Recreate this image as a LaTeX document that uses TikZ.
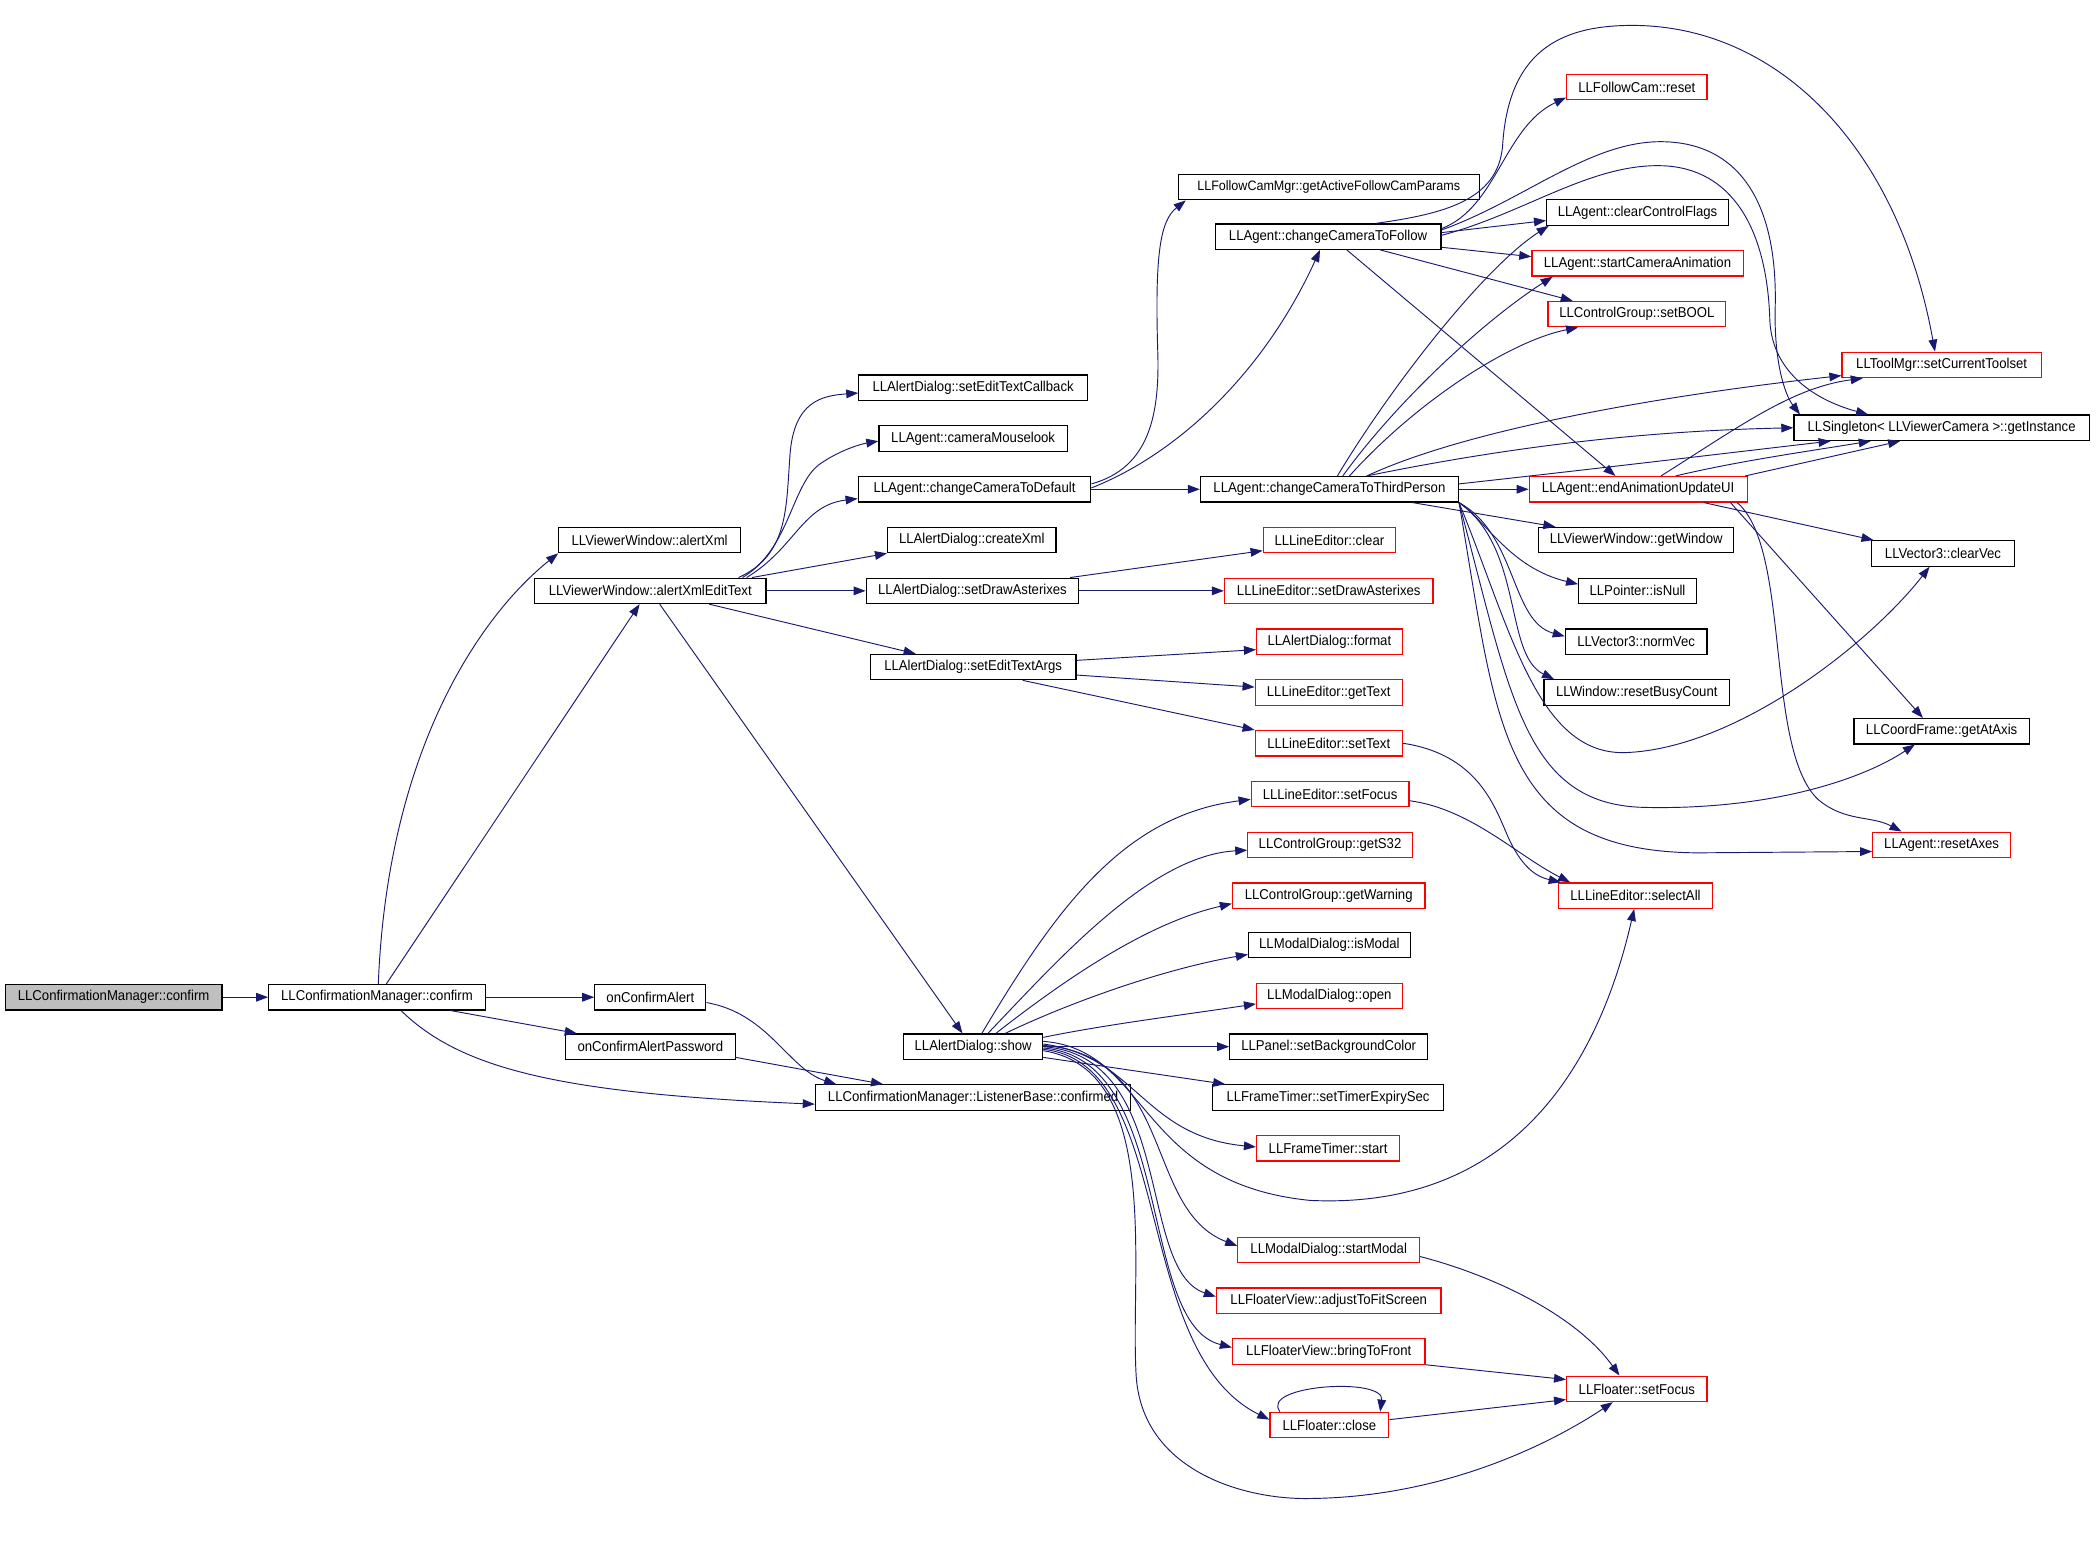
\documentclass[tikz,border=0pt]{standalone}
\usepackage{fontspec}
\setmainfont{Liberation Sans}
\newfontfamily\nodefont[FakeStretch=0.92]{Liberation Sans}
\usetikzlibrary{arrows.meta}
\definecolor{edgec}{HTML}{191970}
\definecolor{rootfill}{HTML}{BFBFBF}
\begin{document}
\begin{tikzpicture}[x=1pt,y=-1pt,
  fn/.style={draw=black, line width=0.9pt, fill=white, minimum height=19pt, inner sep=0pt, font=\nodefont\fontsize{10.7}{12}\selectfont},
  rn/.style={fn, draw=red},
  ed/.style={draw=edgec, line width=0.7pt, -{Triangle[length=9pt,width=6.5pt]}}]
\fill[white] (0,0) rectangle (1568,1171);
\path[use as bounding box] (0,0) rectangle (1568,1171);

% column 1-3
\node[fn, fill=rootfill, minimum width=162pt] (root) at (85,746) {LLConfirmationManager::confirm};
\node[fn, minimum width=162pt] (conf) at (282,746) {LLConfirmationManager::confirm};
\node[fn, minimum width=83pt] (onca) at (486.5,746) {onConfirmAlert};
\node[fn, minimum width=127pt] (oncap) at (486.5,783) {onConfirmAlertPassword};
\node[fn, minimum width=136pt] (axml) at (486,404) {LLViewerWindow::alertXml};
\node[fn, minimum width=173pt] (axet) at (486.5,442) {LLViewerWindow::alertXmlEditText};
% column 4
\node[fn, minimum width=171pt] (setetc) at (728,290) {LLAlertDialog::setEditTextCallback};
\node[fn, minimum width=141pt] (camml) at (728,328) {LLAgent::cameraMouselook};
\node[fn, minimum width=174pt] (cctd) at (729,366) {LLAgent::changeCameraToDefault};
\node[fn, minimum width=126pt] (crxml) at (727,404) {LLAlertDialog::createXml};
\node[fn, minimum width=159pt] (sda) at (727.5,442) {LLAlertDialog::setDrawAsterixes};
\node[fn, minimum width=154pt] (seta) at (728,499) {LLAlertDialog::setEditTextArgs};
\node[fn, minimum width=104pt] (show) at (728,783) {LLAlertDialog::show};
\node[fn, minimum width=236pt] (lbc) at (728,821) {LLConfirmationManager::ListenerBase::confirmed};
% column 5
\node[fn, minimum width=225pt, font=\nodefont\fontsize{10.2}{12}\selectfont] (gafcp) at (994,140) {LLFollowCamMgr::getActiveFollowCamParams};
\node[fn, minimum width=169pt] (cctf) at (993.5,177) {LLAgent::changeCameraToFollow};
\node[fn, minimum width=193pt] (cctp) at (994.5,366) {LLAgent::changeCameraToThirdPerson};
\node[rn, minimum width=99pt] (leclr) at (994.5,404) {LLLineEditor::clear};
\node[rn, minimum width=156pt] (lesda) at (994,442) {LLLineEditor::setDrawAsterixes};
\node[rn, minimum width=109pt] (adfmt) at (994.5,480) {LLAlertDialog::format};
\node[rn, minimum width=110pt] (legt) at (994,518) {LLLineEditor::getText};
\node[rn, minimum width=110pt] (lest) at (994,556) {LLLineEditor::setText};
\node[rn, minimum width=118pt] (lesf) at (995,594) {LLLineEditor::setFocus};
\node[rn, minimum width=123pt] (gets32) at (995,632) {LLControlGroup::getS32};
\node[rn, minimum width=144pt] (getw) at (994,670) {LLControlGroup::getWarning};
\node[fn, minimum width=121pt] (ismod) at (994.5,707) {LLModalDialog::isModal};
\node[rn, minimum width=109pt] (open) at (994.5,745) {LLModalDialog::open};
\node[fn, minimum width=148pt] (sbg) at (994,783) {LLPanel::setBackgroundColor};
\node[fn, minimum width=173pt] (ste) at (993.5,821) {LLFrameTimer::setTimerExpirySec};
\node[rn, minimum width=107pt] (ftst) at (993.5,859) {LLFrameTimer::start};
\node[rn, minimum width=136pt] (smod) at (994,935) {LLModalDialog::startModal};
\node[rn, minimum width=168pt] (adj) at (994,973) {LLFloaterView::adjustToFitScreen};
\node[rn, minimum width=144pt] (btf) at (994,1011) {LLFloaterView::bringToFront};
\node[rn, minimum width=89pt] (fclose) at (994.5,1066) {LLFloater::close};
% column 6
\node[rn, minimum width=105pt] (fcreset) at (1224.5,65) {LLFollowCam::reset};
\node[fn, minimum width=136pt] (ccf) at (1225,159) {LLAgent::clearControlFlags};
\node[rn, minimum width=158pt] (sca) at (1225,197) {LLAgent::startCameraAnimation};
\node[rn, minimum width=133pt] (sbool) at (1224.5,235) {LLControlGroup::setBOOL};
\node[rn, minimum width=163pt] (eaui) at (1225.5,366) {LLAgent::endAnimationUpdateUI};
\node[fn, minimum width=146pt] (gwin) at (1224,404) {LLViewerWindow::getWindow};
\node[fn, minimum width=88pt] (isnull) at (1225,442) {LLPointer::isNull};
\node[fn, minimum width=106pt] (normv) at (1224,480) {LLVector3::normVec};
\node[fn, minimum width=139pt] (rbc) at (1224.5,518) {LLWindow::resetBusyCount};
\node[rn, minimum width=115pt] (selall) at (1223.5,670) {LLLineEditor::selectAll};
\node[rn, minimum width=105pt] (ffocus) at (1224.5,1039) {LLFloater::setFocus};
% column 7
\node[rn, minimum width=149pt] (tmgr) at (1452.5,273) {LLToolMgr::setCurrentToolset};
\node[fn, minimum width=221pt] (single) at (1452.5,320) {LLSingleton< LLViewerCamera >::getInstance};
\node[fn, minimum width=107pt] (clrv) at (1453.5,414) {LLVector3::clearVec};
\node[fn, minimum width=131pt] (atax) at (1452.5,547) {LLCoordFrame::getAtAxis};
\node[rn, minimum width=103pt] (rax) at (1452.5,632) {LLAgent::resetAxes};

% ---- edges ----
\draw[ed] (root.east) -- (conf.west);
\draw[ed] ([xshift=1pt]conf.north) .. controls (290,560) and (360,460) .. (axml.south west);
\draw[ed] ([xshift=7pt]conf.north) -- ([xshift=-8pt]axet.south);
\draw[ed] (conf.east) -- (onca.west);
\draw[ed] ([xshift=55pt]conf.south) -- ([xshift=-55pt]oncap.north);
\draw[ed] ([xshift=18pt]conf.south) .. controls (345,800) and (420,818) .. ([yshift=-5pt]lbc.west);
\draw[ed] ([yshift=-4pt]onca.east) .. controls (575,758) and (590,800) .. ([xshift=16pt]lbc.north west);
\draw[ed] ([yshift=-8pt]oncap.east) -- ([xshift=51pt]lbc.north west);

\draw[ed] ([xshift=66pt]axet.north) .. controls (590,415) and (588,380) .. (591,340) .. controls (594,300) and (615,296) .. ([yshift=-4pt]setetc.west);
\draw[ed] ([xshift=69pt]axet.north) .. controls (592,410) and (592,360) .. (615,346) .. controls (630,336) and (645,332) .. ([yshift=-2pt]camml.west);
\draw[ed] ([xshift=72pt]axet.north) .. controls (595,410) and (600,378) .. ([yshift=-7pt]cctd.west);
\draw[ed] ([xshift=76pt]axet.north) -- (crxml.south west);
\draw[ed] (axet.east) -- (sda.west);
\draw[ed] ([xshift=44pt]axet.south) -- ([xshift=-43pt]seta.north);
\draw[ed] ([xshift=7pt]axet.south) -- ([xshift=-8pt]show.north);

\draw[ed] ([yshift=4pt]cctd.east) .. controls (860,350) and (868,310) .. (866,260) .. controls (864,190) and (868,165) .. ([xshift=6pt]gafcp.south west);
\draw[ed] ([yshift=1pt]cctd.east) .. controls (880,340) and (945,280) .. ([xshift=-6pt]cctf.south);
\draw[ed] (cctd.east) -- (cctp.west);

\draw[ed] ([xshift=73pt]sda.north) -- ([yshift=2pt]leclr.south west);
\draw[ed] (sda.east) -- (lesda.west);
\draw[ed] ([yshift=5pt]seta.east) -- ([yshift=-6pt]adfmt.west);
\draw[ed] ([yshift=-6pt]seta.east) -- ([yshift=4pt]legt.west);
\draw[ed] ([xshift=37pt]seta.south) -- (lest.north west);

\draw[ed] (lest.east) .. controls (1110,565) and (1120,610) .. (1130,630) .. controls (1140,650) and (1150,656) .. ([xshift=2pt]selall.north west);
\draw[ed] ([yshift=-5pt]lesf.east) .. controls (1100,605) and (1135,640) .. ([xshift=9pt]selall.north west);

% show
\draw[ed] ([xshift=6.5pt]show.north) .. controls (790,680) and (840,610) .. ([yshift=-4pt]lesf.west);
\draw[ed] ([xshift=11pt]show.north) .. controls (790,720) and (860,640) .. ([yshift=-4pt]gets32.west);
\draw[ed] ([xshift=17pt]show.north) .. controls (800,730) and (860,690) .. ([yshift=-6pt]getw.west);
\draw[ed] ([xshift=24pt]show.north) .. controls (800,750) and (870,725) .. ([yshift=-7pt]ismod.west);
\draw[ed] ([yshift=7pt]show.east) .. controls (830,766) and (880,760) .. ([yshift=-6pt]open.west);
\draw[ed] (show.east) -- (sbg.west);
\draw[ed] ([yshift=-8pt]show.east) -- ([xshift=10pt]ste.north west);
\draw[ed] ([yshift=2pt]show.east) .. controls (850,790) and (855,850) .. ([yshift=1pt]ftst.west);
\draw[ed] ([yshift=4pt]show.east) .. controls (860,785) and (850,885) .. (980,898) .. controls (1130,905) and (1195,800) .. ([xshift=-1pt]selall.south);
\draw[ed] ([yshift=1pt]show.east) .. controls (880,790) and (855,905) .. ([yshift=3pt]smod.west);
\draw[ed] (show.east) .. controls (880,790) and (850,950) .. ([yshift=3pt]adj.west);
\draw[ed] ([yshift=-1pt]show.east) .. controls (880,792) and (850,990) .. ([yshift=3pt]btf.west);
\draw[ed] ([yshift=-2pt]show.east) .. controls (880,795) and (845,1010) .. ([yshift=4pt]fclose.west);
\draw[ed] ([yshift=-3pt]show.east) .. controls (870,800) and (845,950) .. (850,1030) .. controls (855,1100) and (930,1122) .. (980,1121) .. controls (1080,1120) and (1160,1080) .. ([xshift=-18pt]ffocus.south);

\draw[ed] ([yshift=-5pt]smod.east) .. controls (1120,955) and (1180,985) .. ([xshift=-13pt]ffocus.north);
\draw[ed] (btf.south east) -- ([yshift=7pt]ffocus.west);
\draw[ed] ([yshift=4pt]fclose.east) -- ([yshift=-8pt]ffocus.west);
\draw[ed] ([xshift=-37pt]fclose.north) .. controls (942,1036) and (1036,1030) .. ([xshift=38pt]fclose.north);

% cctf
\draw[ed] ([yshift=6pt]cctf.east) .. controls (1120,155) and (1125,95) .. ([yshift=2pt]fcreset.south west);
\draw[ed] ([yshift=3pt]cctf.east) -- ([yshift=-6pt]ccf.west);
\draw[ed] ([yshift=-8pt]cctf.east) -- ([yshift=5pt]sca.west);
\draw[ed] ([xshift=39pt]cctf.south) -- ([xshift=19pt]sbool.north west);
\draw[ed] ([xshift=36pt]cctf.north) .. controls (1080,160) and (1120,150) .. (1124,110) .. controls (1128,40) and (1165,19) .. (1221,19) .. controls (1330,19) and (1420,110) .. ([xshift=-5pt]tmgr.north);
\draw[ed] ([yshift=5pt]cctf.east) .. controls (1140,150) and (1190,105) .. (1244,106) .. controls (1300,107) and (1330,150) .. (1328,230) .. controls (1327,270) and (1335,295) .. ([xshift=5pt]single.north west);
\draw[ed] ([yshift=1pt]cctf.east) .. controls (1140,160) and (1190,122) .. (1244,124) .. controls (1295,126) and (1322,170) .. (1324,240) .. controls (1326,280) and (1360,300) .. ([xshift=-55pt]single.north);
\draw[ed] ([xshift=14pt]cctf.south) -- ([xshift=-17pt]eaui.north);

% cctp
\draw[ed] ([xshift=6pt]cctp.north) .. controls (1040,290) and (1110,200) .. ([xshift=2pt]ccf.south west);
\draw[ed] ([xshift=10pt]cctp.north) .. controls (1045,300) and (1110,240) .. ([xshift=16pt]sca.south west);
\draw[ed] ([xshift=15pt]cctp.north) .. controls (1060,300) and (1130,255) .. ([xshift=23pt]sbool.south west);
\draw[ed] ([xshift=28pt]cctp.north) .. controls (1100,320) and (1250,295) .. ([yshift=-8pt]tmgr.west);
\draw[ed] ([xshift=28pt]cctp.north) .. controls (1150,330) and (1250,322) .. (single.west);
\draw[ed] ([yshift=4pt]cctp.east) .. controls (1200,350) and (1300,338) .. ([xshift=-83pt]single.south);
\draw[ed] (cctp.east) -- (eaui.west);
\draw[ed] ([xshift=62pt]cctp.south) -- ([xshift=13pt]gwin.north west);
\draw[ed] (cctp.south east) .. controls (1112,390) and (1130,425) .. ([yshift=5pt]isnull.west);
\draw[ed] (cctp.south east) .. controls (1135,400) and (1130,465) .. ([yshift=4pt]normv.west);
\draw[ed] (cctp.south east) .. controls (1140,410) and (1125,490) .. ([xshift=8pt]rbc.north west);
\draw[ed] (cctp.south east) .. controls (1130,470) and (1150,565) .. (1216,563) .. controls (1300,560) and (1400,480) .. ([xshift=-10pt]clrv.south);
\draw[ed] (cctp.south east) .. controls (1130,520) and (1140,602) .. (1230,604) .. controls (1320,606) and (1390,585) .. ([xshift=-20pt]atax.south);
\draw[ed] (cctp.south east) .. controls (1120,540) and (1120,637) .. (1270,638) -- ([yshift=-5pt]rax.west);

% eaui
\draw[ed] ([xshift=17pt]eaui.north) .. controls (1300,320) and (1340,290) .. ([xshift=-59pt]tmgr.south);
\draw[ed] ([xshift=28pt]eaui.north) .. controls (1300,345) and (1350,338) .. ([xshift=-53pt]single.south);
\draw[ed] ([xshift=80pt]eaui.north) -- ([xshift=-31pt]single.south);
\draw[ed] ([xshift=49pt]eaui.south) -- ([xshift=2pt]clrv.north west);
\draw[ed] ([xshift=69pt]eaui.south) -- ([xshift=-14pt]atax.north);
\draw[ed] ([xshift=74pt]eaui.south) .. controls (1340,410) and (1320,560) .. (1360,598) .. controls (1380,615) and (1400,610) .. ([xshift=-30pt]rax.north);
\end{tikzpicture}
\end{document}
